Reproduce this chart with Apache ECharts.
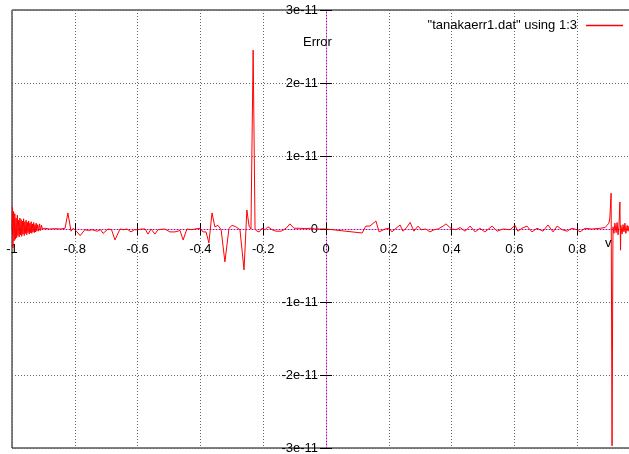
<!DOCTYPE html>
<html>
<head>
<meta charset="utf-8">
<script src="https://cdn.jsdelivr.net/npm/echarts@6/dist/echarts.min.js"></script>
<style>
html,body{margin:0;padding:0;background:#fff;}
#chart{width:629px;height:454px;}
</style>
</head>
<body>
<div id="chart"></div>
<script>
// x values (v) and error values in units of 1e-12
const xValues = [
-1.000,-0.9985,-0.997,-0.995,-0.993,-0.991,-0.989,-0.987,-0.985,-0.983,-0.981,-0.979,-0.977,-0.975,-0.973,-0.971,-0.969,-0.967,-0.965,-0.963,
-0.961,-0.959,-0.957,-0.955,-0.953,-0.951,-0.949,-0.947,-0.945,-0.943,-0.941,-0.939,-0.937,-0.935,-0.933,-0.931,-0.929,-0.927,-0.925,-0.923,
-0.921,-0.918,-0.915,-0.912,-0.909,-0.906,-0.903,-0.895,-0.880,-0.865,-0.847,-0.831,-0.822,-0.812,-0.805,-0.797,-0.783,-0.768,-0.757,-0.745,
-0.729,-0.718,-0.710,-0.694,-0.683,-0.672,-0.656,-0.645,-0.634,-0.621,-0.610,-0.599,-0.588,-0.576,-0.567,-0.557,-0.545,-0.535,-0.529,-0.513,
-0.497,-0.481,-0.465,-0.455,-0.443,-0.427,-0.417,-0.401,-0.392,-0.382,-0.373,-0.363,-0.354,-0.344,-0.334,-0.322,-0.309,-0.299,-0.287,-0.274,
-0.261,-0.252,-0.245,-0.239,-0.232,-0.226,-0.220,-0.213,-0.204,-0.194,-0.185,-0.172,-0.159,-0.143,-0.127,-0.115,-0.102,-0.083,-0.067,-0.051,
-0.032,-0.013,0.000,0.115,0.127,0.140,0.159,0.169,0.188,0.201,0.210,0.223,0.236,0.245,0.255,0.268,0.280,0.293,0.303,0.318,
0.331,0.344,0.357,0.373,0.382,0.392,0.401,0.414,0.427,0.443,0.459,0.475,0.490,0.506,0.529,0.545,0.564,0.586,0.602,0.611,
0.624,0.640,0.656,0.672,0.691,0.707,0.723,0.736,0.752,0.768,0.783,0.799,0.809,0.825,0.847,0.873,0.889,0.895,0.901,0.904,
0.908,0.911,0.914,0.917,0.920,0.924,0.927,0.930,0.933,0.936,0.938,0.939,0.943,0.946,0.949,0.952,0.955,0.959,0.962,0.965,
0.970,0.980,0.990,1.000
];
const errValues = [
0.0,3.0,-2.6,2.4,-1.6,2.1,-1.4,1.5,-1.2,1.9,-0.9,1.2,-1.1,1.5,-0.8,1.3,-1.0,1.1,-0.7,1.4,
-0.9,1.0,-0.6,1.2,-0.8,0.9,-0.5,1.1,-0.7,0.8,-0.5,1.0,-0.6,0.7,-0.4,0.9,-0.5,0.6,-0.4,0.8,
-0.3,0.6,-0.3,0.7,-0.2,0.5,0.0,0.1,0.0,0.05,0.0,0.1,2.2,-0.3,0.1,-0.2,-0.9,-0.1,-0.2,-0.1,
-0.3,-0.1,-0.6,0.0,-0.1,-1.5,0.0,-0.1,0.0,-0.4,-0.1,-0.1,0.0,0.0,-0.7,0.0,-0.7,-0.1,0.1,0.0,
-0.4,-0.4,-0.2,-1.5,0.0,-0.1,0.0,0.1,-0.4,-0.4,-1.9,2.2,0.3,0.5,-0.1,-4.5,0.1,0.5,0.3,-0.1,
-5.6,2.6,0.4,0.0,24.5,0.0,-0.3,-0.4,0.1,-0.1,0.3,-0.1,-0.3,-0.3,0.1,0.7,0.1,0.1,0.05,0.1,
0.0,0.0,0.0,-0.55,0.4,0.4,1.1,-0.4,0.0,0.1,-0.4,0.1,0.55,-0.3,0.1,0.9,-0.3,0.4,-0.1,0.0,
-0.4,-0.1,0.0,0.4,0.7,0.3,0.0,-0.1,0.2,-0.3,0.4,-0.4,0.1,-0.4,0.4,-0.3,0.0,-0.1,0.5,-0.3,
0.1,0.4,-0.4,0.1,-0.3,0.55,-0.4,0.4,-0.1,-0.3,0.1,-0.1,-0.4,0.1,0.0,0.1,0.2,0.5,0.8,1.5,
4.9,-29.7,0.3,-0.6,0.8,-0.5,0.9,-0.8,0.4,3.7,-2.9,0.5,-0.7,0.6,-0.4,0.8,-0.6,0.5,-0.3,0.4,
-0.5,0.6,-0.4,0.0
];
const xTicks = [-1,-0.8,-0.6,-0.4,-0.2,0,0.2,0.4,0.6,0.8,1];
const yTicks = [-30,-20,-10,0,10,20,30]; // units of 1e-12
const seriesName = '"tanakaerr1.dat" using 1:3';
const yLabelText = 'Error';
const xLabelText = 'v';

const data = xValues.map((x, i) => [x, errValues[i]]);
const font = 'Liberation Sans, Arial, sans-serif';
const gridCol = '#666';
const zeroCol = '#b000b0';
const xSplitColors = xTicks.map(v => v === 0 ? 'rgba(0,0,0,0)' : gridCol);
const ySplitColors = yTicks.map(v => v === 0 ? 'rgba(0,0,0,0)' : gridCol);

const G = {left: 12, top: 10, width: 628, height: 438};
const xMin = xTicks[0], xMax = xTicks[xTicks.length - 1];
const yMin = yTicks[0], yMax = yTicks[yTicks.length - 1];
// move axes from the grid edge onto the zero lines
const xAxisOffset = -G.height * (0 - yMin) / (yMax - yMin);
const yAxisOffset = -G.width * (0 - xMin) / (xMax - xMin);

const chart = echarts.init(document.getElementById('chart'), null, {renderer: 'canvas'});
const xBase = {type: 'value', min: xMin, max: xMax, interval: 0.2, position: 'bottom', gridIndex: 0, offset: xAxisOffset};
const yBase = {type: 'value', min: yMin, max: yMax, interval: 10, position: 'left', gridIndex: 0, offset: yAxisOffset};
chart.setOption({
  animation: false,
  backgroundColor: '#fff',
  grid: Object.assign({outerBoundsMode: 'none', containLabel: false,
    show: true, borderColor: '#000', borderWidth: 1, backgroundColor: 'transparent'}, G),
  legend: {
    right: 1, top: 14, align: 'right', icon: 'rect', itemWidth: 37, itemHeight: 1.5,
    textStyle: {fontFamily: font, fontSize: 13, color: '#000', padding: [0, 4, 0, 0]},
    data: [seriesName]
  },
  xAxis: [
    Object.assign({}, xBase, {
      axisLine: {onZero: false, lineStyle: {color: zeroCol, width: 1, type: [1, 2]}},
      axisTick: {show: true, inside: true, length: 6, lineStyle: {color: '#000'}},
      axisLabel: {show: true, margin: 14, fontFamily: font, fontSize: 13, color: '#000', showMinLabel: true, showMaxLabel: true},
      splitLine: {show: true, lineStyle: {color: xSplitColors, width: 1, type: [1, 2]}}
    }),
    Object.assign({}, xBase, {
      axisLine: {show: false, onZero: false},
      axisTick: {show: true, inside: false, length: 6, lineStyle: {color: '#000'}},
      axisLabel: {show: false},
      splitLine: {show: false}
    })
  ],
  yAxis: [
    Object.assign({}, yBase, {
      axisLine: {onZero: false, lineStyle: {color: zeroCol, width: 1, type: [1, 2]}},
      axisTick: {show: true, inside: true, length: 6, lineStyle: {color: '#000'}},
      axisLabel: {
        show: true, margin: 8, fontFamily: font, fontSize: 13, color: '#000', showMinLabel: true, showMaxLabel: true,
        formatter: v => v === 0 ? '0' : (Math.round(v) / 10) + 'e-11'
      },
      splitLine: {show: true, lineStyle: {color: ySplitColors, width: 1, type: [1, 2]}}
    }),
    Object.assign({}, yBase, {
      axisLine: {show: false, onZero: false},
      axisTick: {show: true, inside: false, length: 6, lineStyle: {color: '#000'}},
      axisLabel: {show: false},
      splitLine: {show: false}
    })
  ],
  graphic: [
    {type: 'text', left: 303, top: 36, z: 10, style: {text: yLabelText, font: '13px ' + font, fill: '#000'}},
    {type: 'text', left: 605, top: 237, z: 10, style: {text: xLabelText, font: '13px ' + font, fill: '#000'}}
  ],
  series: [{
    name: seriesName, type: 'line', xAxisIndex: 0, yAxisIndex: 0,
    data: data, showSymbol: false, symbol: 'none',
    lineStyle: {color: '#ff0000', width: 1}, itemStyle: {color: '#ff0000'},
    clip: true, z: 5
  }]
});
</script>
</body>
</html>
